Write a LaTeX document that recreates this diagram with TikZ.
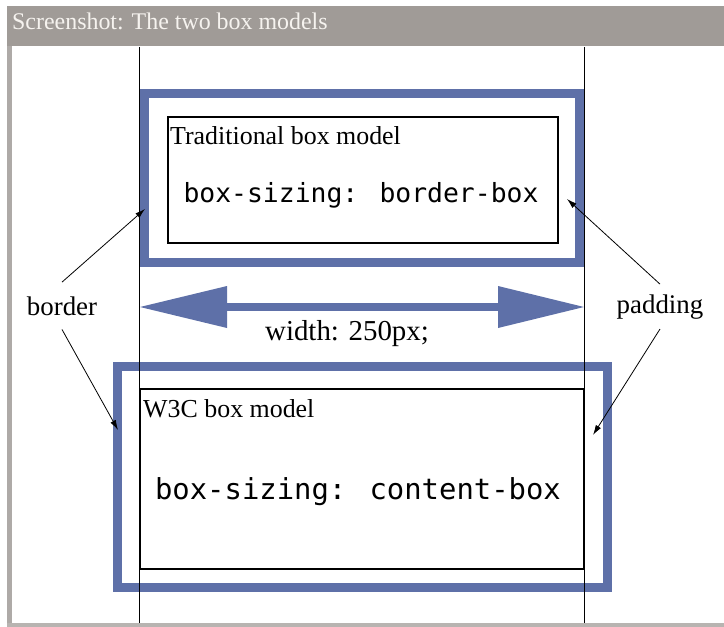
\documentclass[tikz,border=0pt]{standalone}
\usepackage{fontspec}
\setmainfont{Liberation Serif}
\newfontfamily\codefont{DejaVu Sans Mono}
\usepackage{tikz}
\usetikzlibrary{arrows,arrows.meta,shapes}

\definecolor{boxblue}{RGB}{94,112,168}
\definecolor{framegray}{RGB}{160,155,151}
\definecolor{captionwhite}{RGB}{246,243,239}

\begin{document}
\begin{tikzpicture}[x=1bp,y=-1bp,>={Latex[length=10bp,width=6bp]},line join=miter,]
\useasboundingbox (0,0) rectangle (724,627);
%% frame
\fill[framegray] (7,6) rectangle (724,46);
\fill[framegray!85] (7,46) rectangle (12,627);
\fill[framegray!75] (7,623) rectangle (724,627);
\node (caption) at (12,30) [anchor=base west,inner sep=0pt,text=captionwhite,font=\fontsize{24}{28}\selectfont] {Screenshot: The two box models};
%% boxes
\begin{scope}[inner sep=0pt]
  \node (oldframe) at (362,178) [draw=boxblue,line width=9.5bp,rectangle,minimum width=435bp,minimum height=169bp] {};
  \node (oldcontent) at (363,180) [draw,line width=1.2bp,rectangle,minimum width=390bp,minimum height=126bp] {};
  \node (w3cframe) at (362.5,477) [draw=boxblue,line width=9bp,rectangle,minimum width=490bp,minimum height=221bp] {};
  \node (w3ccontent) at (362,479) [draw,line width=1.2bp,rectangle,minimum width=444bp,minimum height=180bp] {};
\end{scope}
%% width guides
\draw [line width=1bp] (139,47) -- (139,623);
\draw [line width=1bp] (584,47) -- (584,623);
%% texts
\begin{scope}[inner sep=0pt]
  \node (oldtitle) at (170,145) [anchor=base west,font=\fontsize{26}{30}\selectfont] {Traditional box model};
  \node (oldcode) at (361,203) [anchor=base,font=\codefont\fontsize{26.5}{30}\selectfont] {box-sizing: border-box};
  \node (w3ctitle) at (143,417) [anchor=base west,font=\fontsize{26}{30}\selectfont] {W3C box model};
  \node (w3ccode) at (358,499) [anchor=base,font=\codefont\fontsize{29}{33}\selectfont] {box-sizing: content-box};
  \node (widthlabel) at (347,340) [anchor=base,font=\fontsize{29}{33}\selectfont] {width: 250px;};
  \node (border) at (62,315) [anchor=base,inner ysep=14bp,font=\fontsize{27}{31}\selectfont] {border};
  \node (padding) at (660,313) [anchor=base,inner ysep=10bp,font=\fontsize{27}{31}\selectfont] {padding};
\end{scope}
%% width arrow
\coordinate (wl) at (140,307);
\coordinate (wr) at (584,307);
\draw [boxblue,line width=8bp,{Triangle[length=87bp 0 0,width=42bp 0 0,line width=0pt]}-{Triangle[length=86bp 0 0,width=42bp 0 0,line width=0pt]}] (wl) -- (wr);
%% pointers
\coordinate (oldleft) at (145,209);
\coordinate (oldright) at (567,199);
\coordinate (w3cleft) at (118,430);
\coordinate (w3cright) at (593,435);
\begin{scope}[line width=0.8bp]
  \draw [->] (border.north) -- (oldleft);
  \draw [->] (border.south) -- (w3cleft);
  \draw [->] (padding.north) -- (oldright);
  \draw [->] (padding.south) -- (w3cright);
\end{scope}
%
\end{tikzpicture}
\end{document}
